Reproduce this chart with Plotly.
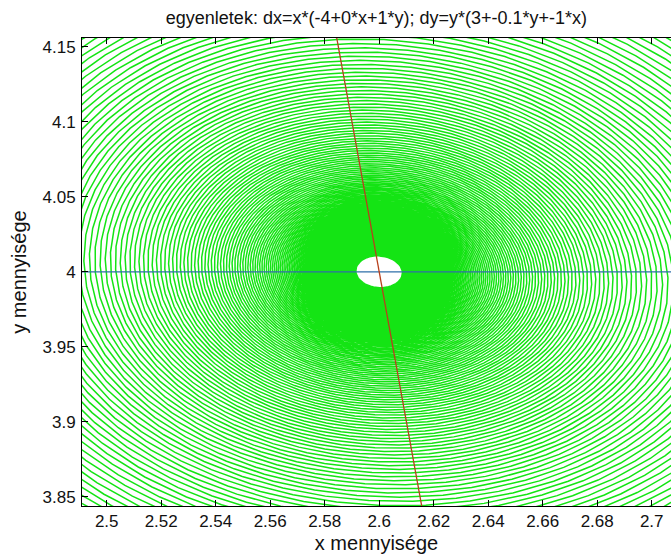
import numpy as np
import plotly.graph_objects as go

# Lotka-Volterra type system:
#   dx = x*(ax0 + ax1*x + ax2*y)
#   dy = y*(ay0 + ay1*y + ay2*x)
coef_x = [-4.0, 0.0, 1.0]
coef_y = [3.0, -0.1, -1.0]

# initial state and explicit Euler step settings
start = [2.6, 4.0105]
dt = 0.04034
n_steps = 8300

x_ticks = [2.5, 2.52, 2.54, 2.56, 2.58, 2.6, 2.62, 2.64, 2.66, 2.68, 2.7]
y_ticks = [3.85, 3.9, 3.95, 4.0, 4.05, 4.1, 4.15]
x_range = [2.49094, 2.70708]
y_range = [3.8440, 4.1558]

title_text = "egyenletek: dx=x*(-4+0*x+1*y); dy=y*(3+-0.1*y+-1*x)"
x_title = "x mennyisége"
y_title = "y mennyisége"

# Euler integration of the trajectory
xs = np.empty(n_steps + 1)
ys = np.empty(n_steps + 1)
xs[0], ys[0] = start
for i in range(n_steps):
    x, y = xs[i], ys[i]
    fx = x * (coef_x[0] + coef_x[1] * x + coef_x[2] * y)
    fy = y * (coef_y[0] + coef_y[1] * y + coef_y[2] * x)
    xs[i + 1] = x + dt * fx
    ys[i + 1] = y + dt * fy

# nullclines: dx=0 -> y = -(ax0 + ax1*x)/ax2 ; dy=0 -> x = -(ay0 + ay1*y)/ay2
nx = np.linspace(2.3, 2.9, 50)
ny_x = -(coef_x[0] + coef_x[1] * nx) / coef_x[2]
ny = np.linspace(3.7, 4.3, 50)
nx_y = -(coef_y[0] + coef_y[1] * ny) / coef_y[2]

fig = go.Figure()
fig.add_trace(go.Scatter(x=xs, y=ys, mode="lines",
                         line=dict(color="rgb(20,228,20)", width=1.5),
                         hoverinfo="skip", showlegend=False))
fig.add_trace(go.Scatter(x=nx, y=ny_x, mode="lines",
                         line=dict(color="#2f6fa8", width=1.3),
                         hoverinfo="skip", showlegend=False))
fig.add_trace(go.Scatter(x=nx_y, y=ny, mode="lines",
                         line=dict(color="#b8401c", width=1.3),
                         hoverinfo="skip", showlegend=False))

font_family = "Liberation Sans, Arial, sans-serif"
fig.update_layout(
    width=671, height=554,
    margin=dict(l=82, r=0, t=38, b=48),
    paper_bgcolor="white", plot_bgcolor="white",
    font=dict(family=font_family, size=17, color="#111111"),
    title=dict(text=title_text, x=0.561, xanchor="center",
               y=1 - 24 / 554, yanchor="bottom",
               font=dict(size=18, color="#111111"), pad=dict(b=0)),
    xaxis=dict(range=x_range, tickvals=x_ticks,
               ticktext=[f"{v:g}" for v in x_ticks],
               ticks="inside", ticklen=6, tickcolor="black",
               showline=True, linecolor="black", linewidth=1,
               mirror="ticks", showgrid=False, zeroline=False,
               title=dict(text=x_title, standoff=6),
               tickfont=dict(size=17)),
    yaxis=dict(range=y_range, tickvals=y_ticks,
               ticktext=[f"{v:g}" for v in y_ticks],
               ticks="inside", ticklen=6, tickcolor="black",
               showline=True, linecolor="black", linewidth=1,
               mirror=False, showgrid=False, zeroline=False,
               ticklabelstandoff=2,
               title=dict(text=y_title, standoff=10),
               tickfont=dict(size=17)),
)

fig.write_html("out.html")
